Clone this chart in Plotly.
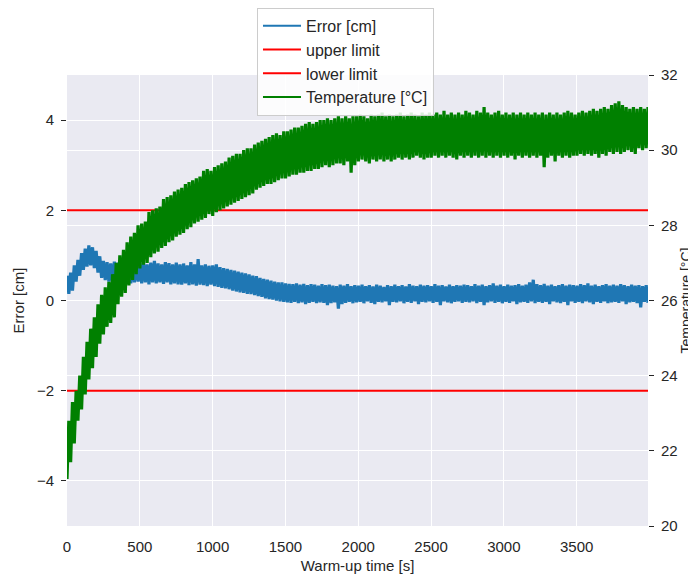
import numpy as np
import plotly.graph_objects as go

# the logger samples roughly every 12.5 s during the warm-up
time = np.linspace(0, 3990, 320)

error_cm = [
    0.55, 0.15, 0.62, 0.22, 0.78, 0.42, 0.9, 0.55, 1.05, 0.68, 1.15, 0.75, 1.22, 0.78, 1.18, 0.72, 1.1, 0.62, 0.98, 0.5,
    0.88, 0.45, 0.85, 0.42, 0.82, 0.4, 0.86, 0.38, 0.84, 0.42, 0.8, 0.4, 0.85, 0.42, 0.88, 0.38, 0.83, 0.4, 0.86, 0.42,
    0.82, 0.38, 0.85, 0.4, 0.8, 0.36, 0.84, 0.4, 0.88, 0.38, 0.82, 0.4, 0.8, 0.37, 0.85, 0.4, 0.83, 0.36, 0.8, 0.38,
    0.84, 0.36, 0.8, 0.35, 0.82, 0.38, 0.78, 0.34, 0.85, 0.36, 0.8, 0.33, 0.92, 0.35, 0.78, 0.34, 0.8, 0.32, 0.77, 0.35,
    0.78, 0.32, 0.8, 0.3, 0.74, 0.28, 0.72, 0.27, 0.7, 0.25, 0.68, 0.22, 0.66, 0.2, 0.64, 0.18, 0.62, 0.17, 0.6, 0.15,
    0.58, 0.14, 0.55, 0.12, 0.54, 0.1, 0.5, 0.08, 0.48, 0.05, 0.46, 0.03, 0.44, 0.02, 0.42, 0.0, 0.4, -0.02, 0.4, -0.03,
    0.38, -0.04, 0.37, -0.05, 0.36, -0.03, 0.38, -0.06, 0.35, -0.04, 0.37, -0.08, 0.34, -0.05, 0.36, -0.03, 0.35, -0.06, 0.33, -0.04,
    0.36, -0.05, 0.34, -0.1, 0.35, -0.06, 0.33, -0.04, 0.32, -0.18, 0.35, -0.08, 0.33, -0.05, 0.36, -0.03, 0.32, -0.06, 0.34, -0.04,
    0.33, -0.03, 0.35, -0.06, 0.32, -0.02, 0.34, -0.05, 0.31, -0.08, 0.35, -0.03, 0.33, -0.04, 0.3, -0.02, 0.34, -0.1, 0.32, -0.03,
    0.35, -0.04, 0.32, -0.02, 0.34, -0.06, 0.31, -0.03, 0.36, -0.05, 0.33, -0.02, 0.32, -0.08, 0.35, -0.03, 0.33, -0.04, 0.34, -0.02,
    0.32, -0.05, 0.36, -0.03, 0.33, -0.1, 0.34, -0.02, 0.31, -0.04, 0.35, -0.06, 0.32, -0.03, 0.34, -0.02, 0.33, -0.05, 0.35, -0.03,
    0.34, -0.04, 0.32, -0.02, 0.36, -0.06, 0.33, -0.03, 0.35, -0.1, 0.32, -0.04, 0.34, -0.02, 0.38, -0.05, 0.33, -0.03, 0.35, -0.06,
    0.32, -0.03, 0.35, -0.05, 0.33, -0.02, 0.34, -0.08, 0.36, -0.04, 0.33, -0.03, 0.35, -0.05, 0.4, -0.02, 0.46, -0.06, 0.36, -0.03,
    0.34, -0.05, 0.37, -0.03, 0.33, -0.08, 0.35, -0.02, 0.32, -0.04, 0.34, -0.06, 0.36, -0.03, 0.33, -0.1, 0.35, -0.02, 0.34, -0.05,
    0.33, -0.03, 0.36, -0.06, 0.34, -0.02, 0.38, -0.04, 0.33, -0.08, 0.35, -0.03, 0.32, -0.05, 0.34, -0.02, 0.36, -0.06, 0.33, -0.04,
    0.35, -0.03, 0.33, -0.05, 0.36, -0.02, 0.34, -0.08, 0.32, -0.04, 0.35, -0.03, 0.33, -0.06, 0.34, -0.15, 0.32, -0.03, 0.34, -0.05,
]

temperature_c = [
    21.25, 22.8, 21.7, 23.3, 22.2, 23.6, 22.8, 24.0, 23.1, 24.5, 23.5, 24.9, 23.9, 25.25, 24.2, 25.55, 24.5, 25.9, 24.85, 26.15,
    25.1, 26.35, 25.3, 26.5, 25.4, 26.7, 25.55, 27.0, 25.9, 27.2, 26.1, 27.35, 26.2, 27.55, 26.4, 27.7, 26.55, 27.8, 26.7, 28.0,
    26.85, 28.05, 26.95, 28.1, 27.0, 28.35, 27.15, 28.4, 27.25, 28.45, 27.3, 28.5, 27.4, 28.7, 27.45, 28.75, 27.55, 28.8, 27.6, 28.9,
    27.7, 28.95, 27.75, 29.0, 27.8, 29.1, 27.9, 29.15, 27.95, 29.2, 28.05, 29.25, 28.1, 29.3, 28.15, 29.45, 28.2, 29.5, 28.3, 29.45,
    28.25, 29.55, 28.35, 29.6, 28.4, 29.65, 28.45, 29.7, 28.5, 29.8, 28.55, 29.85, 28.6, 29.9, 28.65, 29.9, 28.7, 30.0, 28.75, 30.05,
    28.8, 30.05, 28.85, 30.15, 28.95, 30.2, 29.0, 30.25, 29.05, 30.3, 29.1, 30.35, 29.1, 30.4, 29.15, 30.45, 29.2, 30.4, 29.25, 30.5,
    29.25, 30.5, 29.3, 30.55, 29.35, 30.6, 29.35, 30.6, 29.4, 30.65, 29.4, 30.7, 29.45, 30.75, 29.45, 30.7, 29.5, 30.75, 29.5, 30.8,
    29.55, 30.8, 29.6, 30.85, 29.55, 30.8, 29.6, 30.85, 29.65, 30.9, 29.65, 30.85, 29.6, 30.9, 29.7, 30.85, 29.4, 30.9, 29.6, 30.9,
    29.7, 30.95, 29.75, 30.9, 29.7, 30.85, 29.65, 30.95, 29.75, 30.9, 29.7, 30.95, 29.75, 31.0, 29.7, 30.9, 29.75, 30.95, 29.7, 30.9,
    29.75, 30.95, 29.8, 31.0, 29.75, 30.9, 29.8, 30.95, 29.75, 31.0, 29.8, 30.95, 29.85, 30.9, 29.8, 31.0, 29.75, 30.95, 29.8, 31.0,
    29.8, 30.95, 29.85, 31.0, 29.8, 30.95, 29.85, 31.05, 29.8, 30.95, 29.85, 31.0, 29.8, 30.95, 29.75, 31.0, 29.85, 30.95, 29.8, 31.05,
    29.85, 31.0, 29.8, 30.95, 29.85, 31.05, 29.8, 31.0, 29.85, 31.15, 29.8, 31.0, 29.85, 30.95, 29.8, 31.0, 29.85, 31.05, 29.8, 30.95,
    29.85, 31.0, 29.8, 30.95, 29.85, 31.0, 29.75, 30.95, 29.85, 31.0, 29.8, 30.95, 29.85, 31.0, 29.8, 30.95, 29.85, 31.0, 29.8, 30.95,
    29.85, 31.0, 29.55, 30.95, 29.8, 31.0, 29.85, 30.95, 29.7, 31.0, 29.85, 30.95, 29.8, 31.0, 29.85, 31.05, 29.8, 31.0, 29.85, 30.95,
    29.85, 31.0, 29.9, 31.05, 29.85, 31.0, 29.9, 31.05, 29.85, 31.1, 29.9, 31.05, 29.8, 31.1, 29.9, 31.15, 29.85, 31.1, 29.95, 31.2,
    29.9, 31.25, 29.95, 31.3, 29.9, 31.2, 29.95, 31.15, 30.0, 31.1, 29.95, 31.15, 29.9, 31.1, 30.05, 31.15, 30.0, 31.1, 30.05, 31.15,
]

upper_limit = 2.0
lower_limit = -2.0

TXT = "#262626"
FONT = "Liberation Sans, Arial, sans-serif"
BLUE = "#1f77b4"
GREEN = "green"

fig = go.Figure()

# dense noisy series, drawn a bit thicker so the band reads as solid
fig.add_trace(go.Scatter(x=time, y=error_cm, mode="lines", showlegend=False,
                         line=dict(color=BLUE, width=3.2, simplify=False)))
fig.add_trace(go.Scatter(x=time, y=temperature_c, mode="lines", showlegend=False,
                         line=dict(color=GREEN, width=3.2, simplify=False), yaxis="y2"))

# legend entries (with the thinner legend line)
fig.add_trace(go.Scatter(x=[None], y=[None], mode="lines", name="Error [cm]",
                         line=dict(color=BLUE, width=2), legendgroup="a"))
fig.add_trace(go.Scatter(x=[time[0], time[-1]], y=[upper_limit, upper_limit],
                         mode="lines", name="upper limit",
                         line=dict(color="red", width=2), legendgroup="b"))
fig.add_trace(go.Scatter(x=[time[0], time[-1]], y=[lower_limit, lower_limit],
                         mode="lines", name="lower limit",
                         line=dict(color="red", width=2), legendgroup="c"))
fig.add_trace(go.Scatter(x=[None], y=[None], mode="lines", name="Temperature [°C]",
                         line=dict(color=GREEN, width=2), yaxis="y2", legendgroup="d"))

# the page body adds an 8 px margin, so the figure is 8 px smaller each way
fig.update_layout(
    width=688, height=566,
    paper_bgcolor="white",
    plot_bgcolor="#EAEAF2",
    font=dict(family=FONT, size=15, color=TXT),
    margin=dict(l=59, r=48, t=67, b=48, autoexpand=False),
    xaxis=dict(
        range=[0, 3990], tickvals=[0, 500, 1000, 1500, 2000, 2500, 3000, 3500],
        showgrid=True, gridcolor="white", gridwidth=1, zeroline=False,
        showline=False, ticks="outside", ticklen=7, tickcolor="rgba(0,0,0,0)",
        tickfont=dict(size=15),
        title=dict(text="Warm-up time [s]", font=dict(size=15), standoff=10),
    ),
    yaxis=dict(
        range=[-5, 5], tickvals=[-4, -2, 0, 2, 4],
        showgrid=True, gridcolor="white", gridwidth=1, zeroline=False,
        ticks="outside", ticklen=5, tickcolor=TXT, ticklabelstandoff=4,
        tickfont=dict(size=15),
        title=dict(text="Error [cm]", font=dict(size=15), standoff=8),
    ),
    yaxis2=dict(
        range=[20, 32], tickvals=[20, 22, 24, 26, 28, 30, 32],
        overlaying="y", side="right",
        showgrid=True, gridcolor="white", gridwidth=1, zeroline=False,
        ticks="outside", ticklen=5, tickcolor=TXT, ticklabelstandoff=4,
        tickfont=dict(size=15),
        title=dict(text="Temperature [°C]", font=dict(size=14), standoff=0),
    ),
    legend=dict(
        x=0.327, y=1.149, xanchor="left", yanchor="top",
        bgcolor="rgba(255,255,255,0.85)", bordercolor="#cccccc", borderwidth=1,
        font=dict(size=16, color=TXT), tracegroupgap=0, itemwidth=38,
    ),
    showlegend=True,
)

fig.write_html("out.html")
